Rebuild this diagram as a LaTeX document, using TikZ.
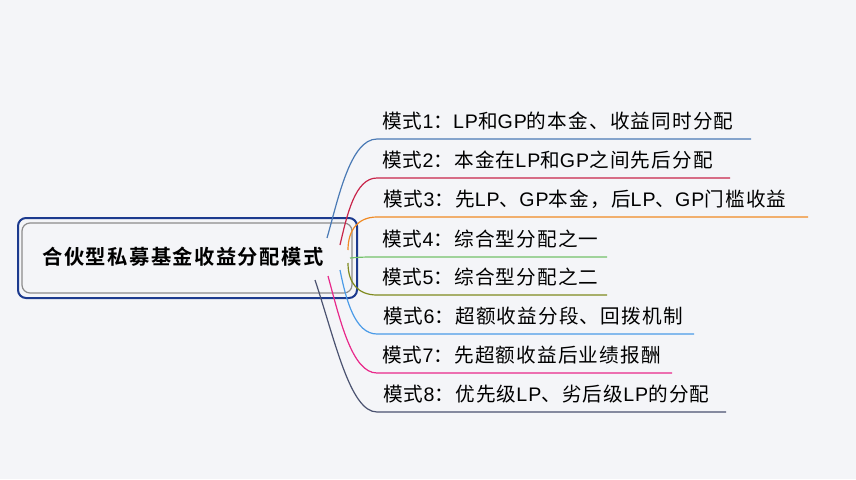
\documentclass[tikz,border=0pt]{standalone}
\usepackage{fontspec}
\newfontfamily\cjk[LetterSpace=6]{Noto Sans CJK SC}
\newfontfamily\cjkb[LetterSpace=7]{Noto Sans CJK SC Bold}
\newfontfamily\lat[LetterSpace=5]{Liberation Sans}
\newcommand{\lt}[1]{{\lat #1}}
\definecolor{bg}{HTML}{F4F5F8}
\definecolor{rootblue}{HTML}{1C3A8E}
\definecolor{rootgray}{HTML}{8C8C8C}
\definecolor{c1}{HTML}{4A7AB5}
\definecolor{c2}{HTML}{C8254A}
\definecolor{c3}{HTML}{F08A24}
\definecolor{c4}{HTML}{74C26A}
\definecolor{c5}{HTML}{7F8A1E}
\definecolor{c6}{HTML}{4A9BE8}
\definecolor{c7}{HTML}{E8288A}
\definecolor{c8}{HTML}{4A5270}
\tikzset{
  branchtext/.style={anchor=base west, inner sep=0pt, font=\cjk\fontsize{19.6}{21}\selectfont, text=black},
  branchline/.style={line width=1.2pt},
}
\begin{document}
\begin{tikzpicture}[x=1pt,y=-1pt]
\fill[bg] (0,0) rectangle (856,479);
\useasboundingbox (0,0) rectangle (856,479);
% root
\draw[rootblue, line width=2pt, rounded corners=8pt, fill=bg] (18,218) rectangle (357,298);
\draw[rootgray, line width=1.2pt, rounded corners=8pt] (22,223) rectangle (352,293);
\node[inner sep=0pt, font=\cjkb\fontsize{20.3}{22}\selectfont] (root) at (183,257) {合伙型私募基金收益分配模式};
% coordinates
\coordinate (s1) at (327,238); \coordinate (e1) at (377,139); \coordinate (f1) at (751,139);
\coordinate (s2) at (340,245); \coordinate (e2) at (377,178); \coordinate (f2) at (730,178);
\coordinate (s3) at (348,250); \coordinate (e3) at (377,217); \coordinate (f3) at (808,217);
\coordinate (s4) at (350,258); \coordinate (e4) at (377,257); \coordinate (f4) at (607,257);
\coordinate (s5) at (348,263); \coordinate (e5) at (377,295); \coordinate (f5) at (607,295);
\coordinate (s6) at (340,270); \coordinate (e6) at (377,334); \coordinate (f6) at (694,334);
\coordinate (s7) at (328,276); \coordinate (e7) at (377,373); \coordinate (f7) at (672,373);
\coordinate (s8) at (315,280); \coordinate (e8) at (377,412); \coordinate (f8) at (726,412);
% connectors
\draw[branchline, c1] (s1) .. controls (338,200) and (350,139) .. (e1) -- (f1);
\draw[branchline, c2] (s2) .. controls (347,215) and (355,178) .. (e2) -- (f2);
\draw[branchline, c3] (s3) .. controls (348,230) and (358,217) .. (e3) -- (f3);
\draw[branchline, c4] (s4) .. controls (360,257) and (367,257) .. (e4) -- (f4);
\draw[branchline, c5] (s5) .. controls (348,283) and (358,295) .. (e5) -- (f5);
\draw[branchline, c6] (s6) .. controls (346,300) and (355,334) .. (e6) -- (f6);
\draw[branchline, c7] (s7) .. controls (340,320) and (352,373) .. (e7) -- (f7);
\draw[branchline, c8] (s8) .. controls (335,340) and (350,412) .. (e8) -- (f8);
% texts
\node[branchtext] (b1) at (382,128) {模式\lt{1}：\lt{LP}和\lt{GP}的本金、收益同时分配};
\node[branchtext] (b2) at (382,167) {模式\lt{2}：本金在\lt{LP}和\lt{GP}之间先后分配};
\node[branchtext] (b3) at (383,206) {模式\lt{3}：先\lt{LP}、\lt{GP}本金，后\lt{LP}、\lt{GP}门槛收益};
\node[branchtext] (b4) at (382,246) {模式\lt{4}：综合型分配之一};
\node[branchtext] (b5) at (382,284) {模式\lt{5}：综合型分配之二};
\node[branchtext] (b6) at (383,323) {模式\lt{6}：超额收益分段、回拨机制};
\node[branchtext] (b7) at (382,362) {模式\lt{7}：先超额收益后业绩报酬};
\node[branchtext] (b8) at (383,401) {模式\lt{8}：优先级\lt{LP}、劣后级\lt{LP}的分配};
\end{tikzpicture}
\end{document}
